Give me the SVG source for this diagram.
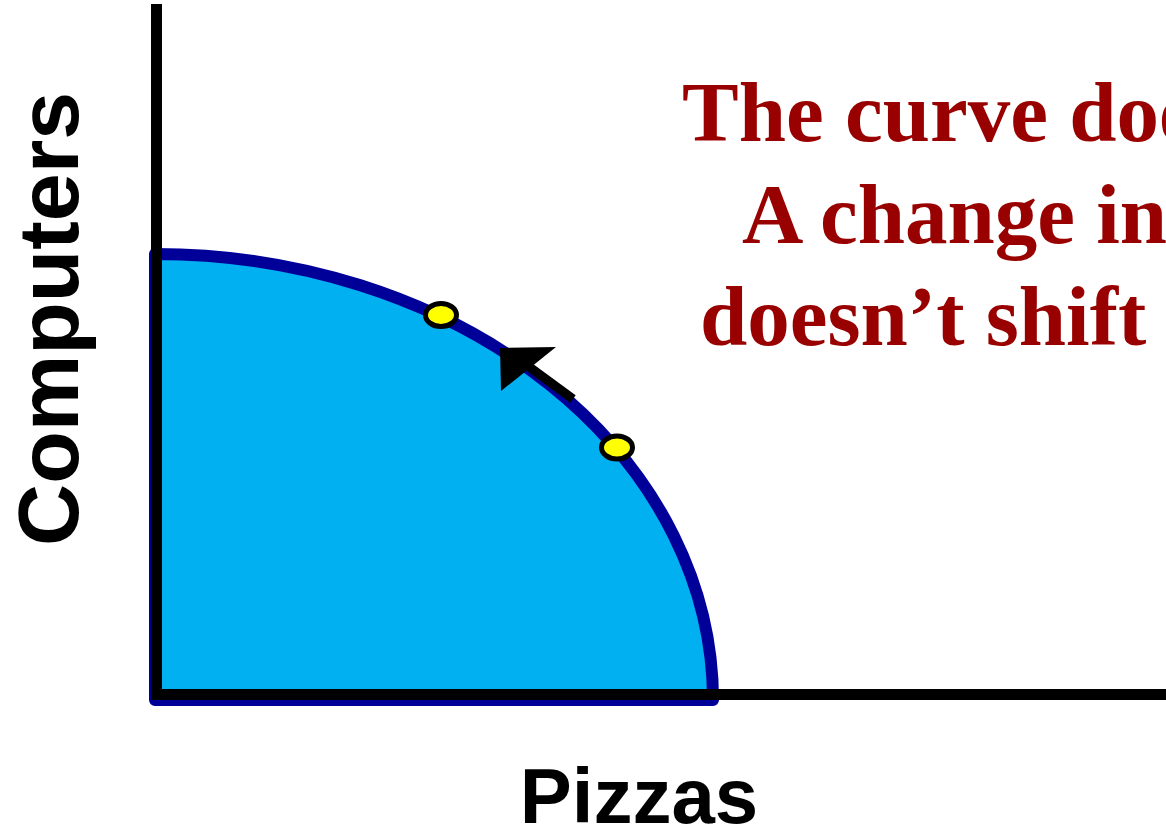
<svg xmlns="http://www.w3.org/2000/svg" width="1166" height="837" viewBox="0 0 1166 837">
<style>
.axis{stroke:#000;stroke-width:11;fill:none}
.ppf{fill:#00B0F0;stroke:#000099;stroke-width:12;stroke-linejoin:round}
.dot{fill:#FFFF00;stroke:#000;stroke-width:5}
.note{font-family:"Liberation Serif","Times New Roman",serif;font-weight:bold;font-size:85px;fill:#990000}
.lbl{font-family:"Liberation Sans",Arial,sans-serif;font-weight:bold;fill:#000}
</style>
<rect width="1166" height="837" fill="#fff"/>
<g id="ppf-area">
<path class="ppf" d="M155,700 L155,254 A558,446 0 0 1 713,700 Z"/>
</g>
<g id="axes">
<line class="axis" x1="156.5" y1="4" x2="156.5" y2="700"/>
<line class="axis" x1="152" y1="694.5" x2="1166" y2="694.5"/>
</g>
<g id="connectors">
<line x1="573" y1="399" x2="528" y2="366" stroke="#000" stroke-width="9"/>
<polygon points="500,348 556,347 501,391" fill="#000"/>
</g>
<g id="point-a"><ellipse class="dot" cx="441" cy="315" rx="15.5" ry="11.5"/></g>
<g id="point-b"><ellipse class="dot" cx="617" cy="447.5" rx="15.5" ry="11.5"/></g>
<g id="note">
<text class="note" x="682" y="141">The curve doesn’t shift.</text>
<text class="note" x="742" y="243">A change in</text>
<text class="note" x="700" y="345">doesn’t shift</text>
</g>
<g id="y-label"><text class="lbl" font-size="86" text-anchor="middle" transform="translate(78,319) rotate(-90)">Computers</text></g>
<g id="x-label"><text class="lbl" font-size="78" text-anchor="middle" x="639" y="823">Pizzas</text></g>
</svg>
